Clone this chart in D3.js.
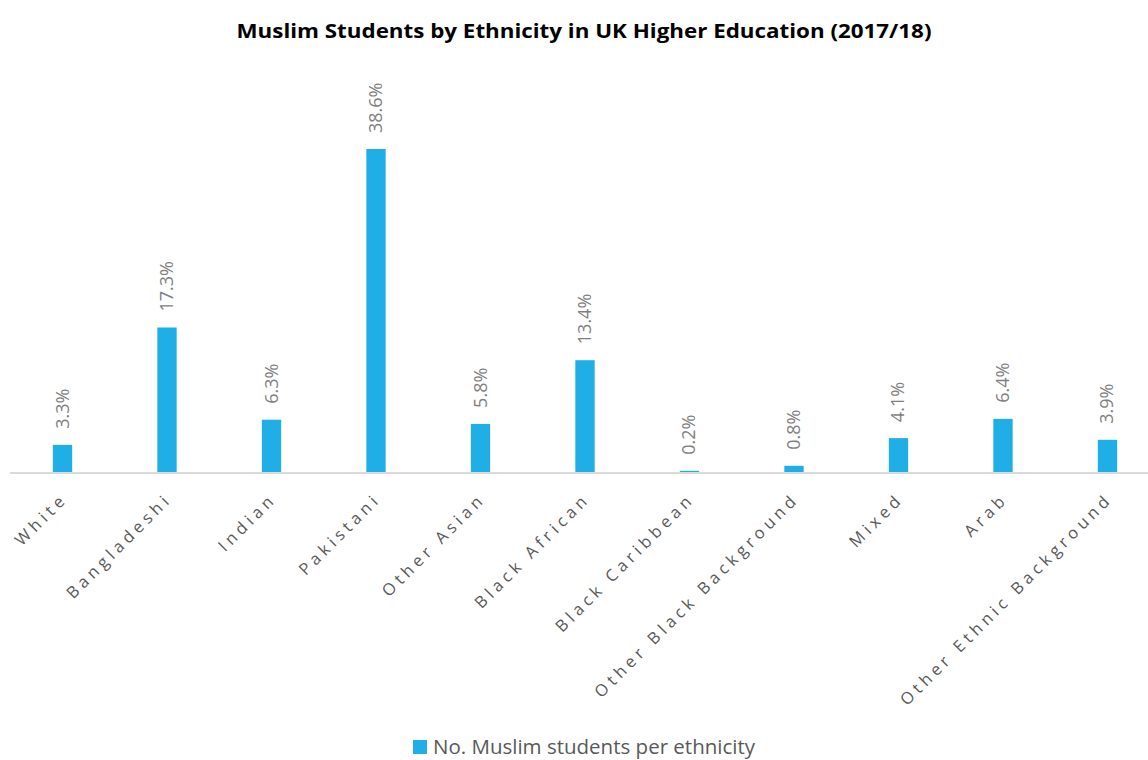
<!DOCTYPE html>
<html><head><meta charset="utf-8">
<script src="https://cdn.jsdelivr.net/npm/d3@7/dist/d3.min.js"></script>
<style>body{margin:0;background:#fff}svg{display:block}</style>
</head><body>
<script>
const categories = ["White","Bangladeshi","Indian","Pakistani","Other Asian","Black African","Black Caribbean","Other Black Background","Mixed","Arab","Other Ethnic Background"];
const values = [3.3,17.3,6.3,38.6,5.8,13.4,0.2,0.8,4.1,6.4,3.9];
const seriesName = "No. Muslim students per ethnicity";
const title = "Muslim Students by Ethnicity in UK Higher Education (2017/18)";

const W = 1148, H = 760;
const svg = d3.select("body").append("svg").attr("width", W).attr("height", H);
const baseY = 472.5;
const x = d3.scaleBand().domain(categories).range([10, 1160]).paddingInner(0.815).paddingOuter(0.41);
const y = d3.scaleLinear().domain([0, 38.6]).range([baseY, 149]);

svg.append("text").attr("x", 584).attr("y", 38).attr("text-anchor","middle")
  .attr("font-family","'Open Sans',sans-serif").attr("font-weight","bold").attr("font-size",20)
  .attr("textLength",695).attr("lengthAdjust","spacingAndGlyphs").attr("fill","#000").text(title);

svg.append("g").selectAll("rect").data(values).join("rect")
  .attr("x",(d,i)=>x(categories[i])).attr("width",x.bandwidth())
  .attr("y",d=>y(d)).attr("height",d=>baseY-y(d)).attr("fill","#1FAEE5");

svg.append("line").attr("x1",10).attr("x2",1148).attr("y1",baseY+0.5).attr("y2",baseY+0.5)
  .attr("stroke","#d9d9d9").attr("stroke-width",2);

svg.append("g").selectAll("text").data(values).join("text")
  .attr("transform",(d,i)=>`translate(${x(categories[i])+x.bandwidth()/2+6},${y(d)-16}) rotate(-90)`)
  .attr("font-family","'Open Sans',sans-serif").attr("font-size",18).attr("fill","#7f7f7f")
  .text(d=>d.toFixed(1)+"%");

svg.append("g").selectAll("text").data(categories).join("text")
  .attr("transform",d=>`translate(${x(d)+x.bandwidth()/2+6},${500}) rotate(-45)`)
  .attr("text-anchor","end")
  .attr("font-family","'Open Sans',sans-serif").attr("font-size",16.5).attr("letter-spacing",4.3).attr("fill","#595959")
  .text(d=>d);

const lg = svg.append("g");
lg.append("rect").attr("x",413).attr("y",740).attr("width",14).attr("height",14).attr("fill","#1FAEE5");
lg.append("text").attr("x",433).attr("y",754).attr("font-family","'Open Sans',sans-serif").attr("font-size",20.5)
  .attr("fill","#595959").text(seriesName);
</script>
</body></html>
